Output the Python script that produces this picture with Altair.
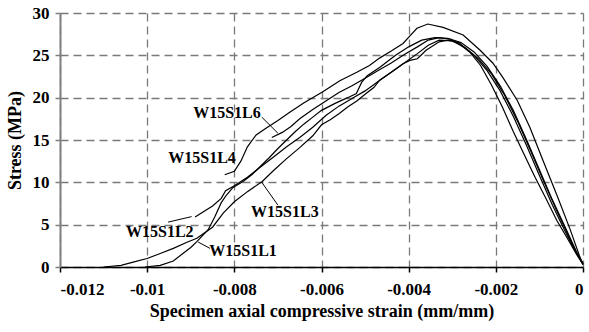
import altair as alt
import pandas as pd

# ---------------- data ----------------
L1_strain = [-0.01005, -0.0097, -0.0094, -0.00918, -0.0090, -0.00886, -0.0086, -0.00845, -0.0083, -0.00818,
             -0.00803, -0.0078, -0.0076, -0.0074, -0.0072, -0.0070, -0.0068, -0.0066, -0.0064, -0.0062,
             -0.0060, -0.0057, -0.0054, -0.0052, -0.00508, -0.00495, -0.00466, -0.0043, -0.0040, -0.0037,
             -0.0034, -0.0031, -0.0028, -0.0025, -0.0022, -0.0019, -0.0016, -0.0013, -0.0010, -0.0007,
             -0.0004, -0.00015, 0.0]
L1_stress = [0.0, 0.2, 0.7, 1.6, 2.3, 3.0, 4.4, 5.9, 7.6, 8.5,
             9.4, 10.1, 10.9, 11.9, 12.9, 14.0, 15.0, 16.0, 16.9, 17.7,
             18.5, 19.3, 20.0, 20.5, 21.8, 22.6, 23.6, 25.0, 26.0, 26.8,
             27.1, 27.0, 26.5, 25.4, 23.7, 21.4, 18.5, 15.1, 11.5, 7.9,
             4.6, 1.8, 0.4]

L2_strain = [-0.0089, -0.0085, -0.0083, -0.0082, -0.0080, -0.0077, -0.0074, -0.0071, -0.0068, -0.0065,
             -0.0062, -0.0059, -0.0056, -0.0053, -0.0050, -0.0047, -0.0044, -0.0041, -0.0038, -0.00355,
             -0.0033, -0.0030, -0.0027, -0.0024, -0.0021, -0.0018, -0.0015, -0.0012, -0.0009, -0.0006,
             -0.0003, -0.0001, 0.0]
L2_stress = [5.9, 7.2, 8.1, 9.0, 9.6, 10.6, 11.8, 13.0, 14.2, 15.3,
             16.5, 17.9, 19.0, 19.9, 20.8, 21.9, 23.0, 24.1, 25.2, 26.2,
             26.8, 26.7, 25.9, 24.6, 22.8, 20.3, 17.2, 13.7, 10.1, 6.6,
             3.3, 1.2, 0.3]

L3_strain = [-0.0110, -0.0106, -0.0103, -0.0100, -0.0097, -0.0094, -0.0091, -0.00886, -0.0085, -0.00825,
             -0.0080, -0.0077, -0.00736, -0.0071, -0.0068, -0.0065, -0.0062, -0.0060, -0.0058, -0.0056,
             -0.0054, -0.00519, -0.0050, -0.0048, -0.00466, -0.0044, -0.00413, -0.00397, -0.0038, -0.0036,
             -0.0033, -0.0031, -0.00285, -0.0026, -0.00235, -0.0021, -0.00185, -0.0016, -0.00135, -0.0011,
             -0.00085, -0.0006, -0.00035, -0.00015, 0.0]
L3_stress = [0.0, 0.2, 0.6, 1.0, 1.6, 2.2, 2.9, 3.4, 4.7, 6.4,
             7.7, 8.9, 10.1, 11.4, 12.8, 14.1, 15.5, 16.8, 17.4, 18.1,
             18.9, 19.6, 20.4, 21.2, 22.1, 23.0, 24.0, 24.4, 24.6, 25.6,
             26.6, 26.8, 26.5, 25.4, 23.8, 21.5, 18.9, 16.0, 13.3, 10.6,
             8.1, 5.5, 3.3, 1.5, 0.3]

L4_strain = [-0.00822, -0.0080, -0.00785, -0.0077, -0.0075, -0.0073, -0.0070, -0.00672, -0.0064, -0.00597,
             -0.00558, -0.00519, -0.0049, -0.00466, -0.0044, -0.00413, -0.00397, -0.00381, -0.00356, -0.00321,
             -0.00275, -0.00236, -0.00207, -0.00184, -0.00151, -0.00122, -0.00092, -0.0006, -0.0003, -0.00008,
             0.0]
L4_stress = [10.9, 11.3, 12.5, 14.2, 15.6, 16.3, 17.3, 18.3, 19.4, 20.7,
             22.0, 23.0, 23.8, 24.7, 25.5, 26.4, 27.3, 28.2, 28.7, 28.3,
             27.4, 25.6, 24.1, 22.4, 19.7, 16.5, 12.6, 8.5, 4.5, 1.3,
             0.3]

L6_strain = [-0.00714, -0.0069, -0.0067, -0.0065, -0.0062, -0.0059, -0.0056, -0.0053, -0.0050, -0.0047,
             -0.0044, -0.0041, -0.0038, -0.00355, -0.0033, -0.00305, -0.0028, -0.0025, -0.0022, -0.0019,
             -0.0016, -0.0013, -0.0010, -0.0007, -0.0004, -0.00015, 0.0]
L6_stress = [15.3, 15.9, 16.6, 17.5, 18.6, 19.6, 20.6, 21.4, 22.3, 23.2,
             24.1, 25.1, 26.0, 26.8, 27.1, 26.9, 26.2, 25.0, 23.2, 20.8,
             17.8, 14.4, 10.8, 7.3, 4.1, 1.6, 0.4]

series_names = ["W15S1L1", "W15S1L2", "W15S1L3", "W15S1L4", "W15S1L6"]

x_ticks = [-0.012, -0.01, -0.008, -0.006, -0.004, -0.002, 0]
y_ticks = [0, 5, 10, 15, 20, 25, 30]

label_text = ["W15S1L6", "W15S1L4", "W15S1L2", "W15S1L3", "W15S1L1"]
label_x = [-0.00817, -0.00874, -0.00971, -0.00684, -0.00780]
label_y = [18.2, 12.9, 4.1, 6.5, 1.9]

leader_x1 = [-0.00737, -0.00952, -0.00700, -0.00856]
leader_y1 = [17.7, 5.3, 7.3, 2.2]
leader_x2 = [-0.00700, -0.00898, -0.00737, -0.00883]
leader_y2 = [15.8, 5.95, 10.0, 2.95]

# ---------------- tables ----------------
rows = []
for name, xs, ys in zip(series_names,
                        [L1_strain, L2_strain, L3_strain, L4_strain, L6_strain],
                        [L1_stress, L2_stress, L3_stress, L4_stress, L6_stress]):
    for i, (xv, yv) in enumerate(zip(xs, ys)):
        rows.append({"series": name, "strain": xv, "stress": yv, "idx": i})
df = pd.DataFrame(rows)

labels_df = pd.DataFrame({"label": label_text, "strain": label_x, "stress": label_y})
leaders_df = pd.DataFrame({"strain": leader_x1, "stress": leader_y1,
                           "strain2": leader_x2, "stress2": leader_y2})

FONT = "'Liberation Serif', 'Times New Roman', serif"

xscale = alt.Scale(domain=[-0.012, 0], nice=False, zero=False)
yscale = alt.Scale(domain=[0, 30], nice=False)

x_axis = alt.Axis(values=x_ticks, labelExpr="datum.value + ''",
                  title="Specimen axial compressive strain (mm/mm)",
                  labelFont=FONT, labelFontSize=17, labelFontWeight="bold", labelColor="black",
                  titleFont=FONT, titleFontSize=18, titleFontWeight="bold", titleColor="black",
                  labelPadding=9, titlePadding=5,
                  domainColor="black", domainWidth=1.5,
                  tickColor="black", tickSize=5, tickWidth=1.5,
                  grid=True, gridColor="#7a7a7a", gridDash=[8, 5], gridWidth=1.3)

y_axis = alt.Axis(values=y_ticks, title="Stress (MPa)",
                  labelFont=FONT, labelFontSize=17, labelFontWeight="bold", labelColor="black",
                  titleFont=FONT, titleFontSize=18, titleFontWeight="bold", titleColor="black",
                  labelPadding=6, titlePadding=8,
                  domainColor="#808080", domainWidth=2,
                  tickColor="#808080", tickSize=5, tickWidth=1.5,
                  grid=True, gridColor="#7a7a7a", gridDash=[8, 5], gridWidth=1.3)

lines = alt.Chart(df).mark_line(color="black", strokeWidth=1.2).encode(
    x=alt.X("strain:Q", scale=xscale, axis=x_axis),
    y=alt.Y("stress:Q", scale=yscale, axis=y_axis),
    detail="series:N",
    order="idx:Q",
)

leaders = alt.Chart(leaders_df).mark_rule(color="black", strokeWidth=1).encode(
    x=alt.X("strain:Q", scale=xscale),
    y=alt.Y("stress:Q", scale=yscale),
    x2="strain2:Q",
    y2="stress2:Q",
)

texts = alt.Chart(labels_df).mark_text(font=FONT, fontSize=16, fontWeight="bold",
                                       color="black", align="center", baseline="middle").encode(
    x=alt.X("strain:Q", scale=xscale),
    y=alt.Y("stress:Q", scale=yscale),
    text="label:N",
)

chart = alt.layer(lines, leaders, texts).properties(
    width=523, height=254,
    autosize=alt.AutoSizeParams(type="none"),
    padding={"left": 60, "top": 13, "right": 6, "bottom": 65},
    background="white",
).configure_view(stroke=None)

chart.save("out.html", embed_options={"renderer": "svg", "actions": False})
